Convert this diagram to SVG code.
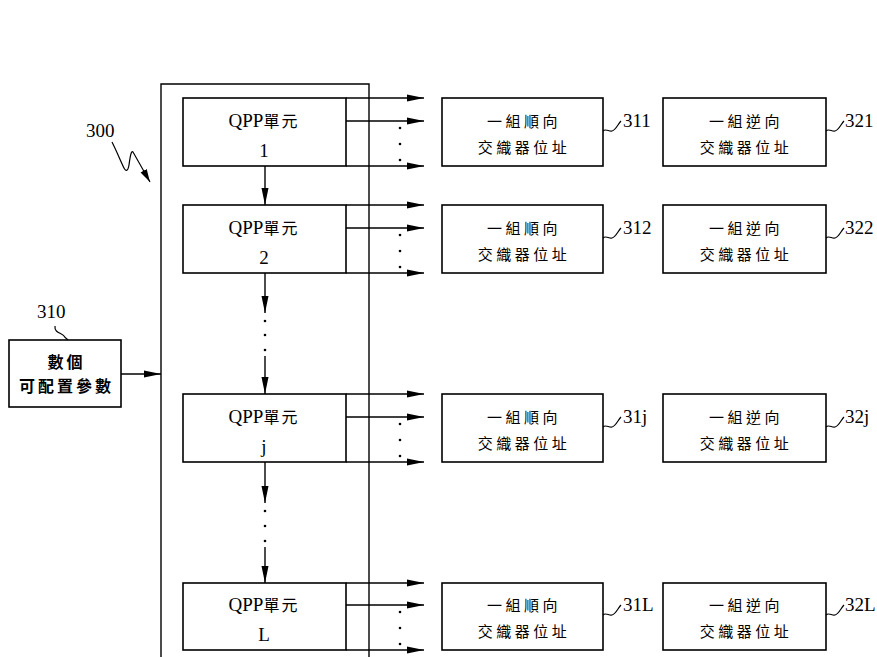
<svg xmlns="http://www.w3.org/2000/svg" width="877" height="657" viewBox="0 0 877 657">
<style>
.box{fill:#fff;stroke:#000;stroke-width:1.6}
.ln{stroke:#000;stroke-width:1.4;fill:none}
.sq{stroke:#000;stroke-width:1.2;fill:none}
.qpp{font-family:"Liberation Serif","Noto Sans CJK TC",serif;font-size:19px;fill:#000}
.cjk{font-family:"Noto Sans CJK TC","Noto Sans CJK SC",sans-serif;font-size:15px;letter-spacing:3.5px;fill:#000}
.cjkb{font-family:"Noto Sans CJK TC","Noto Sans CJK SC",sans-serif;font-size:16px;letter-spacing:3px;font-weight:bold;fill:#000}
.lab{font-family:"Liberation Serif",serif;font-size:19px;fill:#000}
.dot{fill:#000}
</style>
<defs>
<marker id="ah" markerUnits="userSpaceOnUse" markerWidth="18" markerHeight="8" refX="17" refY="4" orient="auto"><path d="M0,0.5 L17,4 L0,7.5 z" fill="#000"/></marker>
<marker id="ah2" markerUnits="userSpaceOnUse" markerWidth="14" markerHeight="8" refX="13" refY="4" orient="auto"><path d="M0,0.5 L13,4 L0,7.5 z" fill="#000"/></marker>
</defs>
<rect width="877" height="657" fill="#fff"/>

<g id="frame300">
<path class="ln" d="M161,657 V84 H369 V657"/>
<text class="lab" x="86" y="137">300</text>
<path class="sq" d="M112,142 C117,152 121,162 124,168 C126,172 128,171 129,165 C130,158 131,150 133,152 L150,182" marker-end="url(#ah2)"/>
</g>

<g id="params310">
<rect class="box" x="9" y="340" width="112" height="67"/>
<text class="cjkb" x="66.5" y="368" text-anchor="middle">數個</text>
<text class="cjkb" x="66.5" y="392" text-anchor="middle">可配置參數</text>
<text class="lab" x="37" y="318">310</text>
<path class="sq" d="M55,326 C54,333 62,333 64,336 C65,338 67,339 68,340"/>
</g>

<g id="qpp1">
<rect class="box" x="183" y="98" width="163" height="68"/>
<text class="qpp" x="264" y="127" text-anchor="middle">QPP<tspan font-size="16" letter-spacing="2">單元</tspan></text>
<text class="qpp" x="264" y="157" text-anchor="middle">1</text>
</g>
<g id="qpp2">
<rect class="box" x="183" y="205" width="163" height="68"/>
<text class="qpp" x="264" y="234" text-anchor="middle">QPP<tspan font-size="16" letter-spacing="2">單元</tspan></text>
<text class="qpp" x="264" y="264" text-anchor="middle">2</text>
</g>
<g id="qppj">
<rect class="box" x="183" y="394" width="163" height="68"/>
<text class="qpp" x="264" y="423" text-anchor="middle">QPP<tspan font-size="16" letter-spacing="2">單元</tspan></text>
<text class="qpp" x="264" y="453" text-anchor="middle">j</text>
</g>
<g id="qppL">
<rect class="box" x="183" y="583" width="163" height="67"/>
<text class="qpp" x="264" y="611" text-anchor="middle">QPP<tspan font-size="16" letter-spacing="2">單元</tspan></text>
<text class="qpp" x="264" y="641" text-anchor="middle">L</text>
</g>

<g id="fwd311">
<rect class="box" x="442" y="98" width="161" height="68"/>
<text class="cjk" x="524" y="127" text-anchor="middle">一組順向</text>
<text class="cjk" x="524" y="153" text-anchor="middle">交織器位址</text>
<path class="sq" d="M603,131 c3,-3 6,1 9,0 c4,-1 6,-7 9,-10"/>
<text class="lab" x="623" y="127">311</text>
</g>
<g id="fwd312">
<rect class="box" x="442" y="205" width="161" height="68"/>
<text class="cjk" x="524" y="234" text-anchor="middle">一組順向</text>
<text class="cjk" x="524" y="260" text-anchor="middle">交織器位址</text>
<path class="sq" d="M603,238 c3,-3 6,1 9,0 c4,-1 6,-7 9,-10"/>
<text class="lab" x="623" y="234">312</text>
</g>
<g id="fwd31j">
<rect class="box" x="442" y="394" width="161" height="68"/>
<text class="cjk" x="524" y="423" text-anchor="middle">一組順向</text>
<text class="cjk" x="524" y="449" text-anchor="middle">交織器位址</text>
<path class="sq" d="M603,427 c3,-3 6,1 9,0 c4,-1 6,-7 9,-10"/>
<text class="lab" x="623" y="423">31j</text>
</g>
<g id="fwd31L">
<rect class="box" x="442" y="583" width="161" height="67"/>
<text class="cjk" x="524" y="611" text-anchor="middle">一組順向</text>
<text class="cjk" x="524" y="637" text-anchor="middle">交織器位址</text>
<path class="sq" d="M603,615 c3,-3 6,1 9,0 c4,-1 6,-7 9,-10"/>
<text class="lab" x="623" y="611">31L</text>
</g>

<g id="rev321">
<rect class="box" x="663" y="98" width="163" height="68"/>
<text class="cjk" x="746" y="127" text-anchor="middle">一組逆向</text>
<text class="cjk" x="746" y="153" text-anchor="middle">交織器位址</text>
<path class="sq" d="M826,131 c3,-3 6,1 9,0 c4,-1 6,-7 9,-10"/>
<text class="lab" x="845" y="127">321</text>
</g>
<g id="rev322">
<rect class="box" x="663" y="205" width="163" height="68"/>
<text class="cjk" x="746" y="234" text-anchor="middle">一組逆向</text>
<text class="cjk" x="746" y="260" text-anchor="middle">交織器位址</text>
<path class="sq" d="M826,238 c3,-3 6,1 9,0 c4,-1 6,-7 9,-10"/>
<text class="lab" x="845" y="234">322</text>
</g>
<g id="rev32j">
<rect class="box" x="663" y="394" width="163" height="68"/>
<text class="cjk" x="746" y="423" text-anchor="middle">一組逆向</text>
<text class="cjk" x="746" y="449" text-anchor="middle">交織器位址</text>
<path class="sq" d="M826,427 c3,-3 6,1 9,0 c4,-1 6,-7 9,-10"/>
<text class="lab" x="845" y="423">32j</text>
</g>
<g id="rev32L">
<rect class="box" x="663" y="583" width="163" height="67"/>
<text class="cjk" x="746" y="611" text-anchor="middle">一組逆向</text>
<text class="cjk" x="746" y="637" text-anchor="middle">交織器位址</text>
<path class="sq" d="M826,615 c3,-3 6,1 9,0 c4,-1 6,-7 9,-10"/>
<text class="lab" x="845" y="611">32L</text>
</g>

<g id="connectors">
<line class="ln" x1="121" y1="374" x2="161" y2="374" marker-end="url(#ah)"/>

<line class="ln" x1="346" y1="98" x2="424" y2="98" marker-end="url(#ah)"/>
<line class="ln" x1="346" y1="121" x2="424" y2="121" marker-end="url(#ah)"/>
<line class="ln" x1="346" y1="166" x2="424" y2="166" marker-end="url(#ah)"/>
<circle class="dot" cx="400" cy="128" r="1.3"/><circle class="dot" cx="400" cy="144" r="1.3"/><circle class="dot" cx="400" cy="160" r="1.3"/>

<line class="ln" x1="346" y1="205" x2="424" y2="205" marker-end="url(#ah)"/>
<line class="ln" x1="346" y1="228" x2="424" y2="228" marker-end="url(#ah)"/>
<line class="ln" x1="346" y1="273" x2="424" y2="273" marker-end="url(#ah)"/>
<circle class="dot" cx="400" cy="235" r="1.3"/><circle class="dot" cx="400" cy="251" r="1.3"/><circle class="dot" cx="400" cy="267" r="1.3"/>

<line class="ln" x1="346" y1="394" x2="424" y2="394" marker-end="url(#ah)"/>
<line class="ln" x1="346" y1="417" x2="424" y2="417" marker-end="url(#ah)"/>
<line class="ln" x1="346" y1="462" x2="424" y2="462" marker-end="url(#ah)"/>
<circle class="dot" cx="400" cy="424" r="1.3"/><circle class="dot" cx="400" cy="440" r="1.3"/><circle class="dot" cx="400" cy="456" r="1.3"/>

<line class="ln" x1="346" y1="583" x2="424" y2="583" marker-end="url(#ah)"/>
<line class="ln" x1="346" y1="605" x2="424" y2="605" marker-end="url(#ah)"/>
<line class="ln" x1="346" y1="650" x2="424" y2="650" marker-end="url(#ah)"/>
<circle class="dot" cx="400" cy="612" r="1.3"/><circle class="dot" cx="400" cy="628" r="1.3"/><circle class="dot" cx="400" cy="644" r="1.3"/>

<line class="ln" x1="265" y1="166" x2="265" y2="205" marker-end="url(#ah)"/>
<line class="ln" x1="265" y1="273" x2="265" y2="313" marker-end="url(#ah)"/>
<circle class="dot" cx="265" cy="321" r="1.3"/><circle class="dot" cx="265" cy="335" r="1.3"/><circle class="dot" cx="265" cy="350" r="1.3"/>
<line class="ln" x1="265" y1="356" x2="265" y2="394" marker-end="url(#ah)"/>
<line class="ln" x1="265" y1="462" x2="265" y2="503" marker-end="url(#ah)"/>
<circle class="dot" cx="265" cy="511" r="1.3"/><circle class="dot" cx="265" cy="526" r="1.3"/><circle class="dot" cx="265" cy="541" r="1.3"/>
<line class="ln" x1="265" y1="547" x2="265" y2="583" marker-end="url(#ah)"/>
</g>
</svg>
